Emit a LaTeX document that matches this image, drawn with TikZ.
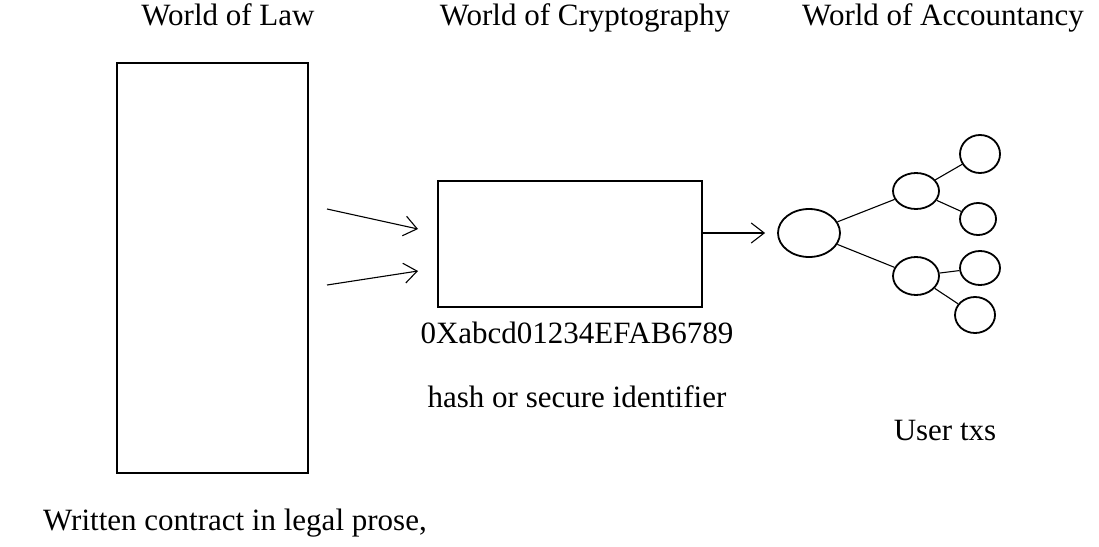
\documentclass[tikz,border=0pt]{standalone}
\usepackage{fontspec}
\setmainfont{Liberation Serif}
\usetikzlibrary{arrows.meta,shapes.geometric}
\tikzset{
  wlbox/.style={draw, line width=2pt, inner sep=0pt},
  wltx/.style={draw, ellipse, line width=1.8pt, inner sep=0pt},
  wllabel/.style={anchor=base, inner sep=0pt, font=\fontsize{31}{37}\selectfont},
  wlflow/.style={-{Straight Barb[length=13pt,width=20pt]}, line width=1.1pt},
  wlbranch/.style={line width=1.1pt}
}

\begin{document}
\begin{tikzpicture}[x=1pt,y=-1pt]
  \useasboundingbox (0,0) rectangle (1099,546);
  \node[wllabel] (lawtitle) at (228,25) {World of Law};
  \node[wllabel] (cryptotitle) at (585,25) {World of Cryptography};
  \node[wllabel] (accttitle) at (943,25) {World of Accountancy};
  \node[wlbox, minimum width=191pt, minimum height=410pt] (law) at (212.5,268) {};
  \node[wlbox, minimum width=264pt, minimum height=126pt] (hashbox) at (570,244) {};
  \node[wllabel] (code) at (577,343) {0Xabcd01234EFAB6789};
  \node[wllabel] (hashtext) at (577,407) {hash or secure identifier};
  \node[wllabel, anchor=base west] (prose) at (43,530) {Written contract in legal prose,};
  \node[wllabel] (usertxs) at (945,440) {User txs};
  \node[wltx, minimum width=62pt, minimum height=48pt] (root) at (809,233) {};
  \node[wltx, minimum width=46pt, minimum height=36pt] (midup) at (916,191) {};
  \node[wltx, minimum width=46pt, minimum height=38pt] (midlow) at (916,276) {};
  \node[wltx, minimum width=40pt, minimum height=38pt] (leafa) at (980,154) {};
  \node[wltx, minimum width=36pt, minimum height=32pt] (leafb) at (978,219) {};
  \node[wltx, minimum width=40pt, minimum height=34pt] (leafc) at (980,268) {};
  \node[wltx, minimum width=40pt, minimum height=36pt] (leafd) at (975,315) {};
  \coordinate (ina) at (327,209);
  \coordinate (inb) at (327,285);
  \coordinate (outa) at (418,229);
  \coordinate (outb) at (418,271);
  \draw[wlflow] (ina) -- (outa);
  \draw[wlflow] (inb) -- (outb);
  \draw[wlflow, shorten >=12pt] (hashbox.east |- root) -- (root);
  \draw[wlbranch] (root) -- (midup);
  \draw[wlbranch] (root) -- (midlow);
  \draw[wlbranch] (midup) -- (leafa);
  \draw[wlbranch] (midup) -- (leafb);
  \draw[wlbranch] (midlow) -- (leafc);
  \draw[wlbranch] (midlow) -- (leafd);
\end{tikzpicture}
\end{document}
